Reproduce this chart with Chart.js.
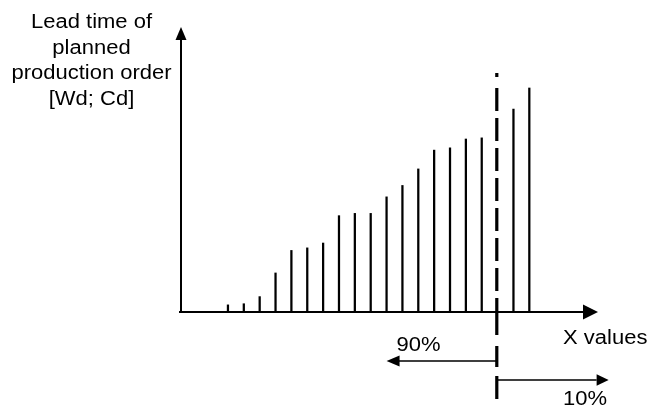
<!DOCTYPE html>
<html>
<head>
<meta charset="utf-8">
<script src="https://cdn.jsdelivr.net/npm/chart.js@4.4.1/dist/chart.umd.min.js"></script>
<style>
  html, body { margin: 0; padding: 0; background: #fff; }
  #chart { display: block; }
</style>
</head>
<body>
<canvas id="chart" width="648" height="409"></canvas>
<script>
// Position of each planned production order along the x axis (17 is the 90% cut)
const orderIndex = [0, 1, 2, 3, 4, 5, 6, 7, 8, 9, 10, 11, 12, 13, 14, 15, 16, 18, 19];
// Lead time of each order (arbitrary units, axis top = 100)
const leadTime = [2.5, 2.9, 5.4, 13.7, 21.6, 22.5, 24.2, 33.8, 34.6, 34.6, 40.4, 44.4, 50.2, 56.8, 57.6, 60.7, 61.1, 71.2, 78.6];
const cutIndex = 17;
const leftArrowEnd = 10;
const rightArrowEnd = 24;
const yTitleLines = ['Lead time of', 'planned', 'production order', '[Wd; Cd]'];
const xTitle = 'X values';
const leftLabel = '90%';
const rightLabel = '10%';

const FONT = '20px "Liberation Sans", Arial, sans-serif';

function drawText(ctx, text, x, y, align) {
  ctx.save();
  ctx.translate(x, y);
  ctx.scale(1.1, 1); // the reference lettering is a bit wide
  ctx.font = FONT;
  ctx.fillStyle = '#000';
  ctx.textAlign = align;
  ctx.textBaseline = 'alphabetic';
  ctx.fillText(text, 0, 0);
  ctx.restore();
}

function arrowHead(ctx, tipX, tipY, dir, len, half) {
  ctx.beginPath();
  if (dir === 'up') {
    ctx.moveTo(tipX, tipY);
    ctx.lineTo(tipX - half, tipY + len);
    ctx.lineTo(tipX + half, tipY + len);
  } else if (dir === 'right') {
    ctx.moveTo(tipX, tipY);
    ctx.lineTo(tipX - len, tipY - half);
    ctx.lineTo(tipX - len, tipY + half);
  } else {
    ctx.moveTo(tipX, tipY);
    ctx.lineTo(tipX + len, tipY - half);
    ctx.lineTo(tipX + len, tipY + half);
  }
  ctx.closePath();
  ctx.fill();
}

const sketchPlugin = {
  id: 'sketch',
  afterDraw(chart) {
    const ctx = chart.ctx;
    const area = chart.chartArea;
    const xs = chart.scales.x;
    ctx.save();
    ctx.strokeStyle = '#000';
    ctx.fillStyle = '#000';

    // axes with arrows
    ctx.lineWidth = 2;
    ctx.beginPath();
    ctx.moveTo(area.left, area.bottom + 1);
    ctx.lineTo(area.left, area.top + 10);
    ctx.moveTo(area.left - 2, area.bottom);
    ctx.lineTo(area.right - 10, area.bottom);
    ctx.stroke();
    arrowHead(ctx, area.left, area.top, 'up', 13, 5.5);
    arrowHead(ctx, area.right, area.bottom, 'right', 15, 7.5);

    // dashed cut line
    const xd = xs.getPixelForValue(cutIndex) - 0.8;
    ctx.lineWidth = 3.2;
    ctx.lineCap = 'butt';
    ctx.beginPath();
    ctx.moveTo(xd, 73);
    ctx.lineTo(xd, 77);
    ctx.stroke();
    ctx.setLineDash([23, 7]);
    ctx.beginPath();
    ctx.moveTo(xd, 88);
    ctx.lineTo(xd, 304);
    ctx.stroke();
    ctx.setLineDash([31, 11, 21, 9, 23, 200]);
    ctx.beginPath();
    ctx.moveTo(xd, 304);
    ctx.lineTo(xd, 400);
    ctx.stroke();
    ctx.setLineDash([]);

    // share arrows
    const xl = xs.getPixelForValue(leftArrowEnd);
    const xr = xs.getPixelForValue(rightArrowEnd);
    ctx.lineWidth = 1.6;
    ctx.beginPath();
    ctx.moveTo(xd, 361);
    ctx.lineTo(xl + 12, 361);
    ctx.moveTo(xd, 380);
    ctx.lineTo(xr - 12, 380);
    ctx.stroke();
    arrowHead(ctx, xl, 361, 'left', 13, 5.5);
    arrowHead(ctx, xr, 380, 'right', 12, 5.8);

    // texts
    yTitleLines.forEach((line, i) => drawText(ctx, line, 91.5, 27.7 + i * 25.8, 'center'));
    drawText(ctx, xTitle, 563, 344, 'left');
    drawText(ctx, leftLabel, 396.5, 350.5, 'left');
    drawText(ctx, rightLabel, 563, 405, 'left');
    ctx.restore();
  }
};

new Chart(document.getElementById('chart'), {
  type: 'bar',
  data: {
    datasets: [{
      data: orderIndex.map((k, i) => ({ x: k, y: leadTime[i] })),
      backgroundColor: '#000',
      borderWidth: 0,
      barThickness: 1.6,
    }],
  },
  options: {
    responsive: false,
    animation: false,
    events: [],
    layout: {
      padding: { left: 181, right: 50, top: 27, bottom: 97 },
    },
    plugins: {
      legend: { display: false },
      title: { display: false },
      tooltip: { enabled: false },
    },
    scales: {
      x: { type: 'linear', display: false, offset: false, min: -2.96, max: 23.33 },
      y: { display: false, min: 0, max: 100 },
    },
  },
  plugins: [sketchPlugin],
});
</script>
</body>
</html>
